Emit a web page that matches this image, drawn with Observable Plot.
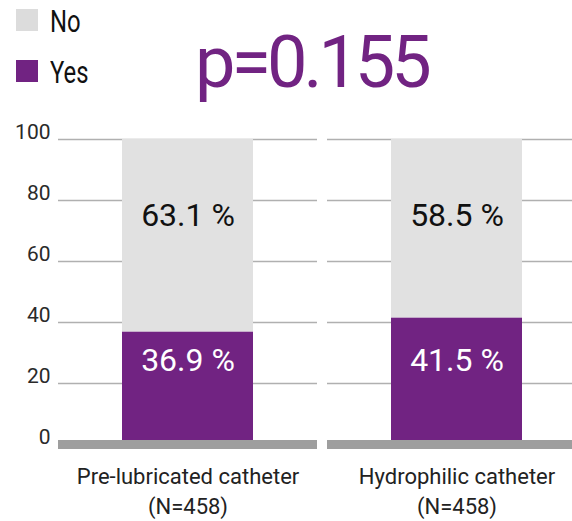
<!DOCTYPE html>
<html>
<head>
<meta charset="utf-8">
<script src="https://cdn.jsdelivr.net/npm/d3@7"></script>
<script src="https://cdn.jsdelivr.net/npm/@observablehq/plot@0.6"></script>
<style>
  html, body { margin: 0; padding: 0; overflow: hidden; background: white; }
  #wrap { position: relative; width: 572px; height: 521px; overflow: hidden; font-family: Roboto, sans-serif; }
  .sw { position: absolute; left: 16px; width: 22px; height: 22px; }
  .lg { position: absolute; left: 50px; font-size: 31px; line-height: 31px; color: #111; transform-origin: 0 0; transform: scaleX(0.77); }
  #pval { position: absolute; left: 195px; top: 27px; font-size: 72px; line-height: 72px; letter-spacing: -4px; color: #712382; white-space: nowrap; }
  #chart { position: absolute; left: 0; top: 110px; }
</style>
</head>
<body>
<div id="wrap">
  <div id="legend"></div>
  <div id="pval"></div>
  <div id="chart"></div>
</div>
<script>
const categories = ["Pre-lubricated catheter", "Hydrophilic catheter"];
const sampleSizes = [458, 458];
const yesPct = [36.9, 41.5];
const noPct = [63.1, 58.5];
const responses = ["Yes", "No"];
const legendOrder = ["No", "Yes"];
const responseColors = ["#e1e1e1", "#712382"]; // No, Yes
const yTicks = [0, 20, 40, 60, 80, 100];
const pValueText = "p=0.155";

const data = categories.flatMap((c, i) => [
  {cat: c, resp: "Yes", value: yesPct[i]},
  {cat: c, resp: "No", value: noPct[i]}
]);

// Legend
const legend = document.getElementById("legend");
legendOrder.forEach((r, i) => {
  const top = i === 0 ? 9 : 60;
  const sw = document.createElement("div");
  sw.className = "sw";
  sw.style.top = top + "px";
  sw.style.background = r === "No" ? "#dcdcdc" : responseColors[1];
  legend.appendChild(sw);
  const t = document.createElement("div");
  t.className = "lg";
  t.style.top = (top - 3) + "px";
  t.textContent = r;
  legend.appendChild(t);
});
document.getElementById("pval").textContent = pValueText;

const chart = Plot.plot({
  width: 586,
  height: 411,
  marginLeft: 58,
  marginRight: 0,
  marginTop: 29,
  marginBottom: 77,
  style: {maxWidth: "none", fontFamily: "Roboto, sans-serif", background: "white", overflow: "visible"},
  fx: {domain: categories, paddingInner: 0.0372, paddingOuter: 0, axis: null, label: null},
  y: {domain: [0, 100], axis: null},
  color: {domain: legendOrder, range: responseColors},
  marks: [
    Plot.gridY(yTicks.filter(t => t > 0), {stroke: "#b0b0b0", strokeOpacity: 1, strokeWidth: 1.5}),
    Plot.barY(data, Plot.stackY({fx: "cat", y: "value", fill: "resp", order: responses, insetLeft: 64, insetRight: 64})),
    Plot.ruleY([0], {stroke: "#9e9e9e", strokeWidth: 9}),
    Plot.axisY({ticks: yTicks, tickSize: 0, tickPadding: 8, fontSize: 21, dy: -7.5, fill: "#2a2a2a", label: null}),
    Plot.text(data.filter(d => d.resp === "No"), {fx: "cat", y: () => 75, text: d => d.value.toFixed(1) + " %", fill: "#111", fontSize: 32}),
    Plot.text(data.filter(d => d.resp === "Yes"), {fx: "cat", y: () => 27.4, text: d => d.value.toFixed(1) + " %", fill: "white", fontSize: 32}),
    Plot.text(categories, {fx: d => d, text: (d, i) => `${d}\n(N=${sampleSizes[i]})`, frameAnchor: "bottom", lineAnchor: "top", dy: 18, fontSize: 22, lineHeight: 1.36, fill: "#222"})
  ]
});
document.getElementById("chart").appendChild(chart);
</script>
</body>
</html>
